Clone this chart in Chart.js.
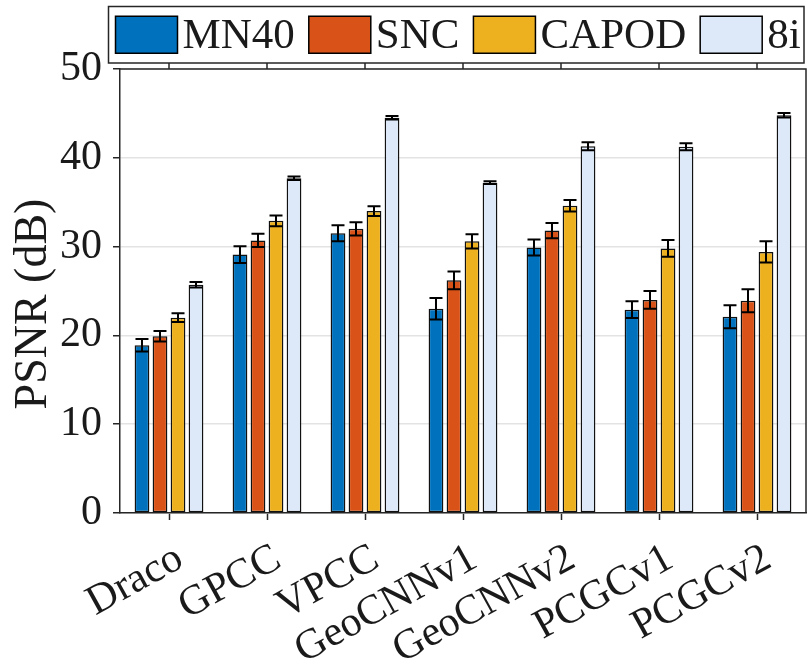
<!DOCTYPE html>
<html>
<head>
<meta charset="utf-8">
<script src="https://cdn.jsdelivr.net/npm/chart.js@4.4.0/dist/chart.umd.min.js"></script>
<style>
  html, body { margin: 0; padding: 0; background: #fff; }
  #c { display: block; }
</style>
</head>
<body>
<canvas id="c" width="807" height="663"></canvas>
<script>
// ---------- data ----------
const categories = ["Draco", "GPCC", "VPCC", "GeoCNNv1", "GeoCNNv2", "PCGCv1", "PCGCv2"];
const seriesNames = ["MN40", "SNC", "CAPOD", "8i"];
const mn40 = [18.9, 29.1, 31.5, 23.0, 29.9, 22.9, 22.1];
const snc = [19.9, 30.7, 32.0, 26.2, 31.8, 24.0, 23.9];
const capod = [22.0, 32.9, 34.0, 30.6, 34.6, 29.8, 29.4];
const eightI = [25.7, 37.7, 44.5, 37.2, 41.3, 41.25, 44.8];
const mn40Err = [0.7, 0.95, 0.9, 1.2, 0.9, 0.95, 1.3];
const sncErr = [0.6, 0.75, 0.75, 1.0, 0.85, 1.0, 1.3];
const capodErr = [0.5, 0.6, 0.55, 0.8, 0.65, 0.95, 1.2];
const eightIErr = [0.3, 0.2, 0.2, 0.15, 0.45, 0.4, 0.25];
const yTicks = [0, 10, 20, 30, 40, 50];
const yTitle = "PSNR (dB)";

const colors = ["#0072BD", "#D95319", "#EDB120", "#DDE9F8"];
const FONT = "'Liberation Serif', 'Times New Roman', serif";
const AXIS = "#262626";
const TEXT = "#1a1a1a";

// ---------- plugins ----------
// error bars drawn on top of each bar, using the y scale
const errorBars = {
  id: "errorBars",
  afterDatasetsDraw(chart) {
    const ctx = chart.ctx;
    const y = chart.scales.y;
    ctx.save();
    ctx.strokeStyle = "#000";
    ctx.lineWidth = 2;
    chart.data.datasets.forEach((ds, di) => {
      const meta = chart.getDatasetMeta(di);
      meta.data.forEach((bar, i) => {
        const v = ds.data[i], e = ds.errors[i];
        const top = y.getPixelForValue(v + e);
        const bot = y.getPixelForValue(v - e);
        const half = bar.width * 0.44;
        ctx.beginPath();
        ctx.moveTo(bar.x, top); ctx.lineTo(bar.x, bot);
        ctx.moveTo(bar.x - half, top); ctx.lineTo(bar.x + half, top);
        ctx.moveTo(bar.x - half, bot); ctx.lineTo(bar.x + half, bot);
        ctx.stroke();
      });
    });
    ctx.restore();
  }
};

// box around the axes + mirrored ticks on top + y label
const frame = {
  id: "frame",
  afterDraw(chart) {
    const { ctx, chartArea: a } = chart;
    const x = chart.scales.x;
    ctx.save();
    ctx.strokeStyle = AXIS;
    ctx.lineWidth = 1.5;
    ctx.beginPath();
    ctx.moveTo(a.left, a.top); ctx.lineTo(a.right, a.top); ctx.lineTo(a.right, a.bottom);
    x.ticks.forEach((t, i) => {
      const px = x.getPixelForTick(i);
      ctx.moveTo(px, a.top); ctx.lineTo(px, a.top - 7);
    });
    ctx.stroke();

    // y axis title (sits a bit below the axis middle, as in the original)
    ctx.translate(34, (a.top + a.bottom) / 2 + 13);
    ctx.rotate(-Math.PI / 2);
    ctx.font = "46px " + FONT;
    ctx.fillStyle = TEXT;
    ctx.textAlign = "center";
    ctx.textBaseline = "middle";
    ctx.fillText(yTitle, 0, 0);
    ctx.restore();
  }
};

// legend box across the top
const topLegend = {
  id: "topLegend",
  afterDraw(chart) {
    const ctx = chart.ctx;
    const box = { left: 108.5, top: 6.5, right: 804, bottom: 63 };
    ctx.save();
    ctx.fillStyle = "#fff";
    ctx.fillRect(box.left, box.top, box.right - box.left, box.bottom - box.top);
    ctx.strokeStyle = AXIS;
    ctx.lineWidth = 1.5;
    ctx.strokeRect(box.left, box.top, box.right - box.left, box.bottom - box.top);
    ctx.font = "43px " + FONT;
    ctx.textBaseline = "middle";
    let cx = box.left + 7;
    const midY = (box.top + box.bottom) / 2;
    chart.data.datasets.forEach((ds) => {
      ctx.fillStyle = ds.backgroundColor;
      ctx.fillRect(cx, midY - 18.5, 62, 37);
      ctx.strokeStyle = "#000";
      ctx.lineWidth = 1.5;
      ctx.strokeRect(cx, midY - 18.5, 62, 37);
      ctx.fillStyle = TEXT;
      ctx.fillText(ds.label, cx + 67, midY + 2);
      cx += 67 + ctx.measureText(ds.label).width + 14;
    });
    ctx.restore();
  }
};

// ---------- chart ----------
const seriesValues = [mn40, snc, capod, eightI];
const seriesErrors = [mn40Err, sncErr, capodErr, eightIErr];

new Chart(document.getElementById("c").getContext("2d"), {
  type: "bar",
  data: {
    labels: categories,
    datasets: seriesNames.map((name, i) => ({
      label: name,
      data: seriesValues[i],
      errors: seriesErrors[i],
      backgroundColor: colors[i],
      borderColor: "#111",
      borderWidth: 1.5,
      borderSkipped: false,
      categoryPercentage: 0.735,
      barPercentage: 0.82
    }))
  },
  options: {
    responsive: false,
    animation: false,
    layout: { padding: { top: 69, right: 1, left: 0, bottom: 0 } },
    plugins: {
      legend: { display: false },
      tooltip: { enabled: false }
    },
    scales: {
      x: {
        afterFit: (s) => { s.height = 150; },
        grid: { display: true, drawOnChartArea: false, offset: false, tickLength: 7, tickColor: AXIS, tickWidth: 1.5 },
        border: { display: true, color: AXIS, width: 1.5 },
        ticks: {
          font: { family: FONT, size: 42 },
          color: TEXT,
          maxRotation: 29,
          minRotation: 29,
          autoSkip: false,
          padding: 14,
          labelOffset: 11
        }
      },
      y: {
        min: 0,
        max: 50,
        afterFit: (s) => { s.width = 120; },
        afterBuildTicks: (s) => { s.ticks = yTicks.map((v) => ({ value: v })); },
        grid: { color: "#e3e3e3", lineWidth: 1.5, tickLength: 7, tickColor: AXIS, tickWidth: 1.5 },
        border: { display: true, color: AXIS, width: 1.5 },
        ticks: {
          font: { family: FONT, size: 42 },
          color: TEXT,
          padding: 11
        },
        title: { display: false }
      }
    }
  },
  plugins: [errorBars, frame, topLegend]
});
</script>
</body>
</html>
